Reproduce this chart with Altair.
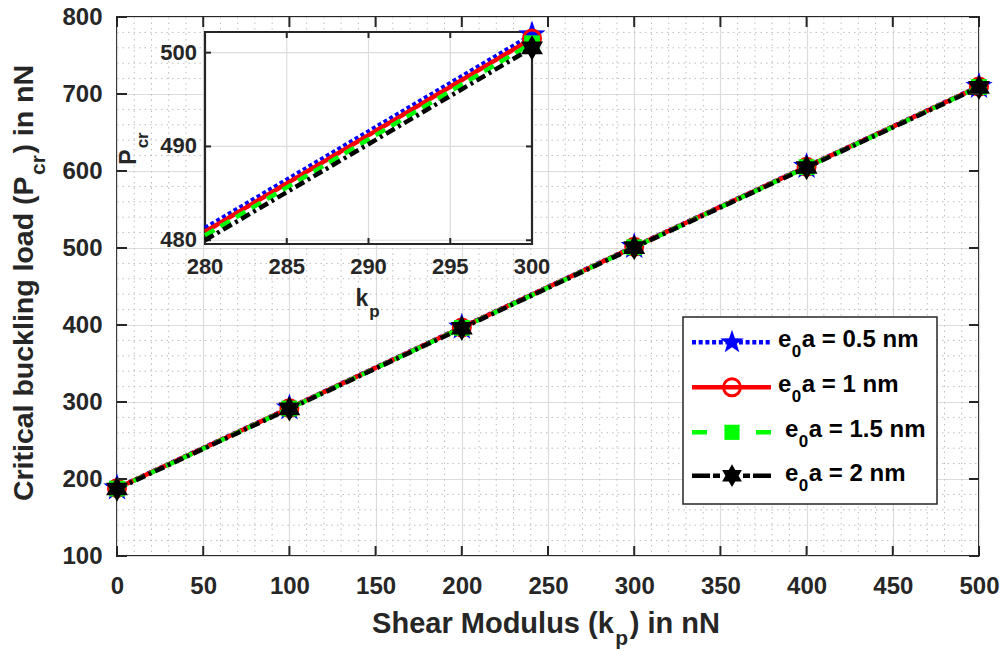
import math
import altair as alt
import pandas as pd

FONT = "Liberation Sans, Arial, Helvetica, sans-serif"
AX = "#262626"

# ---------------- data ----------------
series = ["e0a = 0.5 nm", "e0a = 1 nm", "e0a = 1.5 nm", "e0a = 2 nm"]
kp = [0, 100, 200, 300, 400, 500]
pcr_05 = [188.4, 292.4, 397.2, 501.9, 605.9, 710.0]
pcr_10 = [188.0, 292.0, 396.8, 501.5, 605.5, 709.6]
pcr_15 = [187.5, 291.5, 396.3, 501.0, 605.0, 709.1]
pcr_20 = [187.0, 291.0, 395.8, 500.5, 604.5, 708.6]

kp_inset = [280, 300]
pin_05 = [481.3, 501.9]
pin_10 = [480.9, 501.5]
pin_15 = [480.5, 501.0]
pin_20 = [480.0, 500.5]

x_ticks = [0, 50, 100, 150, 200, 250, 300, 350, 400, 450, 500]
y_ticks = [100, 200, 300, 400, 500, 600, 700, 800]
x_minor = [v for v in range(10, 500, 10) if v % 50]
y_minor = [v for v in range(120, 800, 20) if v % 100]
xi_ticks = [280, 285, 290, 295, 300]
yi_ticks = [480, 490, 500]
x_lim = [0, 500]
y_lim = [100, 800]
xi_lim = [280, 300]
yi_lim = [479.6, 502.2]

colors = ["#0000ff", "#ff0000", "#00ff00", "#000000"]
dashes = [[4, 2.7], [1, 0], [11, 7], [10, 4, 3, 4]]
legend_dashes = [[4, 2.7], [1, 0], [15, 49], [18, 3, 7, 23, 7, 3, 18]]

# ---------------- geometry ----------------
W, H = 862, 539
XI_RANGE = [88, 415]
YI_RANGE = [227, 15]


def star_path(n, r_in):
    pts = []
    for k in range(2 * n):
        ang = math.radians(-90 + 180.0 / n * k)
        r = 1.0 if k % 2 == 0 else r_in
        pts.append((r * math.cos(ang), r * math.sin(ang)))
    return "M" + "L".join(f"{x:.3f},{y:.3f}" for x, y in pts) + "Z"


PENTA = star_path(5, 0.40)
HEXA = star_path(6, 0.577)

marker_kw = [
    dict(shape=PENTA, filled=True, size=820, color=colors[0], opacity=1),
    dict(shape="circle", filled=False, size=290, color=colors[1], strokeWidth=3, opacity=1),
    dict(shape="square", filled=True, size=250, color=colors[2], opacity=1),
    dict(shape=HEXA, filled=True, size=640, color=colors[3], opacity=1),
]

XS = alt.Scale(domain=x_lim, nice=False, zero=False)
YS = alt.Scale(domain=y_lim, nice=False, zero=False)
XIS = alt.Scale(domain=xi_lim, range=XI_RANGE, nice=False, zero=False)
YIS = alt.Scale(domain=yi_lim, range=YI_RANGE, nice=False, zero=False)

axis_common = dict(grid=True, gridColor="#dcdcdc", gridWidth=1.2, ticks=False, tickSize=0,
                   domain=False, labelFont=FONT, labelFontSize=24, labelFontWeight="bold",
                   labelColor=AX, labelOverlap=False, title=None)
AXIS_X = alt.Axis(values=x_ticks, labelPadding=18, labelFlush=False, **axis_common)
AXIS_Y = alt.Axis(values=y_ticks, labelPadding=15, labelFlush=False, **axis_common)


def MX(f):
    return alt.X(f, scale=XS, axis=AXIS_X)


def MY(f):
    return alt.Y(f, scale=YS, axis=AXIS_Y)


one = pd.DataFrame({"a": [0]})

# ---------------- main plot ----------------
main_layers = []
main_layers.append(
    alt.Chart(pd.DataFrame({"xm": x_minor})).mark_rule(color="#bdbdbd", strokeWidth=1, strokeDash=[1.5, 4])
    .encode(x=MX("xm:Q"), y=alt.value(0), y2=alt.value(H))
)
main_layers.append(
    alt.Chart(pd.DataFrame({"ym": y_minor})).mark_rule(color="#bdbdbd", strokeWidth=1, strokeDash=[1.5, 4])
    .encode(y=MY("ym:Q"), x=alt.value(0), x2=alt.value(W))
)

main_vals = [pcr_05, pcr_10, pcr_15, pcr_20]
for i, vals in enumerate(main_vals):
    d = pd.DataFrame({"kp": kp, "pcr": vals})
    base = alt.Chart(d).encode(x=MX("kp:Q"), y=MY("pcr:Q"))
    main_layers.append(base.mark_line(color=colors[i], strokeWidth=4.5, strokeDash=dashes[i], strokeCap="butt"))
    main_layers.append(base.mark_point(**marker_kw[i]))

dxt = pd.DataFrame({"t": x_ticks})
dyt = pd.DataFrame({"t": y_ticks})
main_layers += [
    alt.Chart(dxt).mark_rule(color=AX, strokeWidth=2).encode(x=MX("t:Q"), y=alt.value(H), y2=alt.value(H - 10)),
    alt.Chart(dxt).mark_rule(color=AX, strokeWidth=2).encode(x=MX("t:Q"), y=alt.value(0), y2=alt.value(10)),
    alt.Chart(dyt).mark_rule(color=AX, strokeWidth=2).encode(y=MY("t:Q"), x=alt.value(0), x2=alt.value(10)),
    alt.Chart(dyt).mark_rule(color=AX, strokeWidth=2).encode(y=MY("t:Q"), x=alt.value(W), x2=alt.value(W - 10)),
]
main = alt.layer(*main_layers)

# ---------------- inset ----------------
lim_df = pd.DataFrame({"x0": [xi_lim[0]], "x1": [xi_lim[1]], "y0": [yi_lim[0]], "y1": [yi_lim[1]]})
inset_layers = []
inset_layers.append(
    alt.Chart(lim_df).mark_rect(fill="white")
    .encode(x=alt.X("x0:Q", scale=XIS, axis=None), x2="x1:Q", y=alt.Y("y0:Q", scale=YIS, axis=None), y2="y1:Q")
)
dxg = pd.DataFrame({"t": xi_ticks[1:-1]})
dyg = pd.DataFrame({"t": yi_ticks})
inset_layers += [
    alt.Chart(dxg).mark_rule(color="#dcdcdc", strokeWidth=1.2)
    .encode(x=alt.X("t:Q", scale=XIS, axis=None), y=alt.value(YI_RANGE[1]), y2=alt.value(YI_RANGE[0])),
    alt.Chart(dyg).mark_rule(color="#dcdcdc", strokeWidth=1.2)
    .encode(y=alt.Y("t:Q", scale=YIS, axis=None), x=alt.value(XI_RANGE[0]), x2=alt.value(XI_RANGE[1])),
]
dxit = pd.DataFrame({"t": xi_ticks})
dyit = pd.DataFrame({"t": yi_ticks})
inset_layers += [
    alt.Chart(dxit).mark_rule(color=AX, strokeWidth=2).encode(x=alt.X("t:Q", scale=XIS, axis=None), y=alt.value(YI_RANGE[0]), y2=alt.value(YI_RANGE[0] - 6)),
    alt.Chart(dxit).mark_rule(color=AX, strokeWidth=2).encode(x=alt.X("t:Q", scale=XIS, axis=None), y=alt.value(YI_RANGE[1]), y2=alt.value(YI_RANGE[1] + 6)),
    alt.Chart(dyit).mark_rule(color=AX, strokeWidth=2).encode(y=alt.Y("t:Q", scale=YIS, axis=None), x=alt.value(XI_RANGE[0]), x2=alt.value(XI_RANGE[0] + 6)),
    alt.Chart(dyit).mark_rule(color=AX, strokeWidth=2).encode(y=alt.Y("t:Q", scale=YIS, axis=None), x=alt.value(XI_RANGE[1]), x2=alt.value(XI_RANGE[1] - 6)),
]
inset_layers.append(
    alt.Chart(lim_df).mark_rect(fillOpacity=0, stroke=AX, strokeWidth=2.2)
    .encode(x=alt.X("x0:Q", scale=XIS, axis=None), x2="x1:Q", y=alt.Y("y0:Q", scale=YIS, axis=None), y2="y1:Q")
)
inset_vals = [pin_05, pin_10, pin_15, pin_20]
for i, vals in enumerate(inset_vals):
    d = pd.DataFrame({"kp": kp_inset, "pcr": vals})
    base = alt.Chart(d).encode(x=alt.X("kp:Q", scale=XIS, axis=None), y=alt.Y("pcr:Q", scale=YIS, axis=None))
    inset_layers.append(base.mark_line(color=colors[i], strokeWidth=4.5, strokeDash=dashes[i], strokeCap="butt"))
    inset_layers.append(base.transform_filter(alt.datum.kp == xi_lim[1]).mark_point(**marker_kw[i]))

inset_layers += [
    alt.Chart(dxit).mark_text(font=FONT, fontSize=22, fontWeight="bold", color=AX, baseline="middle", align="center")
    .encode(x=alt.X("t:Q", scale=XIS, axis=None), y=alt.value(249.7), text=alt.Text("t:Q", format="d")),
    alt.Chart(dyit).mark_text(font=FONT, fontSize=22, fontWeight="bold", color=AX, baseline="middle", align="right")
    .encode(y=alt.Y("t:Q", scale=YIS, axis=None), x=alt.value(80), text=alt.Text("t:Q", format="d")),
]
inset = alt.layer(*inset_layers)

# ---------------- rich text helper ----------------
WB = {" ": 278, "(": 333, ")": 333, ".": 278, "=": 584,
      "a": 556, "b": 611, "c": 556, "d": 611, "e": 556, "g": 611, "h": 611, "i": 278, "k": 556,
      "l": 278, "m": 889, "n": 611, "o": 611, "p": 611, "r": 389, "s": 556, "t": 333, "u": 611,
      "C": 722, "M": 833, "N": 722, "P": 667, "S": 667}


def tw(s, size):
    return sum(WB.get(ch, 556) for ch in s) * size / 1000.0


def rich(pieces, x0, y0, angle=0, center=False, color=AX):
    total = sum(tw(t, s) + g for t, s, _, g in pieces)
    pos = -total / 2 if center else 0.0
    out = []
    for t, s, shift, gap in pieces:
        pos += gap / 2
        if angle == 0:
            x, y = x0 + pos, y0 + shift
        else:
            x, y = x0 + shift, y0 - pos
        kw = dict(text=t, font=FONT, fontSize=s, fontWeight="bold", align="left",
                  baseline="alphabetic", color=color)
        if angle:
            kw["angle"] = angle
        out.append(alt.Chart(one).mark_text(**kw).encode(x=alt.value(x), y=alt.value(y)))
        pos += tw(t, s) + gap / 2
    return out


notes = []
# main axis titles
notes += rich([("Shear Modulus (k", 29, 0, 0), ("p", 21, 12, 3), (") in nN", 29, 0, 0)], 429, 616, center=True)
notes += rich([("Critical buckling load (P", 28.5, 0, 0), ("cr", 21, 12, 3), (") in nN", 28.5, 0, 0)],
              -84, 266, angle=270, center=True)
# inset titles
notes += rich([("k", 23, 0, 0), ("p", 17, 11, 2)], 251, 289, center=True)
notes += rich([("P", 23, 0, 0), ("cr", 17, 12, 2)], 19, 131, angle=270, center=True)

# legend
notes.append(alt.Chart(one).mark_rect(fill="white", stroke=AX, strokeWidth=1.5)
             .encode(x=alt.value(566), x2=alt.value(820), y=alt.value(300), y2=alt.value(487)))
rows = [325.3, 370.3, 415.3, 458.7]
text_x = [661, 661, 668, 668]
legend_marker_sizes = [620, 290, 230, 520]
for i, name in enumerate(series):
    r = rows[i]
    notes.append(alt.Chart(one).mark_rule(color=colors[i], strokeWidth=4.5, strokeDash=legend_dashes[i], strokeCap="butt")
                 .encode(x=alt.value(575), x2=alt.value(654), y=alt.value(r)))
    mk = dict(marker_kw[i])
    mk["size"] = legend_marker_sizes[i]
    notes.append(alt.Chart(one).mark_point(**mk).encode(x=alt.value(615), y=alt.value(r)))
    rest = name.split("e0", 1)[1]
    notes += rich([("e", 24, 0, 0), ("0", 17, 10, 1), (rest, 24, 0, 0)], text_x[i], r + 5, color="#000000")

chart = (
    alt.layer(main, inset, *notes)
    .resolve_scale(x="independent", y="independent")
    .properties(width=W, height=H, padding={"left": 117, "top": 17, "right": 26, "bottom": 95},
                autosize=alt.AutoSizeParams(type="none"))
    .configure_view(stroke=AX, strokeWidth=2)
)

chart.save("out.html", embed_options={"renderer": "svg", "actions": False})
